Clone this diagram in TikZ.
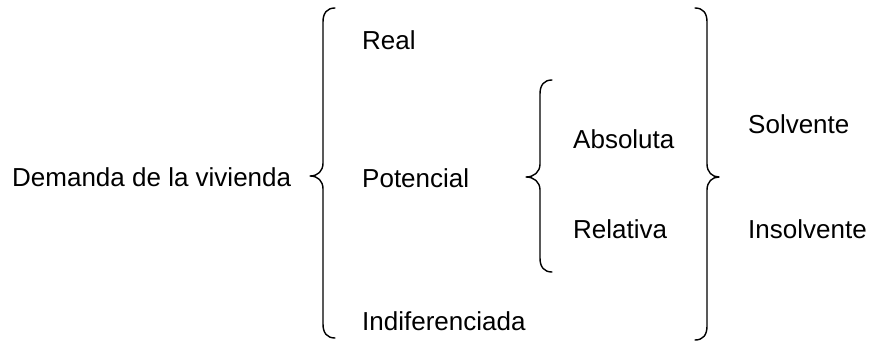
\documentclass[tikz,border=0pt]{standalone}
\usepackage{fontspec}
\setmainfont{Liberation Sans}
\tikzset{
  lbl/.style={anchor=base west, inner sep=0pt, font=\fontsize{26}{30}\selectfont},
  brc/.style={line width=1.4pt, line cap=round, line join=round}
}
\begin{document}
\begin{tikzpicture}[x=1pt,y=-1pt]
\useasboundingbox (0,0) rectangle (872,345);
% texts
\node[lbl] (dem) at (12,186) {Demanda de la vivienda};
\node[lbl] (real) at (362,49) {Real};
\node[lbl] (pot) at (362,187) {Potencial};
\node[lbl] (ind) at (362,330) {Indiferenciada};
\node[lbl] (abs) at (573,148) {Absoluta};
\node[lbl] (rel) at (573,238) {Relativa};
\node[lbl] (sol) at (748,133) {Solvente};
\node[lbl] (ins) at (748,238) {Insolvente};
% big left brace
\draw[brc] (335,8) .. controls (327,8) and (323,13) .. (323,22) -- (323,163)
  .. controls (323,171) and (318,176) .. (310,176)
  .. controls (318,176) and (323,181) .. (323,189) -- (323,324)
  .. controls (323,333) and (327,338) .. (335,338);
% inner left brace
\draw[brc] (552,80) .. controls (544,80) and (540,85) .. (540,94) -- (540,164)
  .. controls (540,172) and (534,177) .. (526,177)
  .. controls (534,177) and (540,182) .. (540,190) -- (540,258)
  .. controls (540,267) and (544,272) .. (552,272);
% big right brace
\draw[brc] (695,8) .. controls (703,8) and (707,13) .. (707,22) -- (707,164)
  .. controls (707,172) and (712,177) .. (719,177)
  .. controls (712,177) and (707,182) .. (707,190) -- (707,326)
  .. controls (707,335) and (703,340) .. (695,340);
\end{tikzpicture}
\end{document}
